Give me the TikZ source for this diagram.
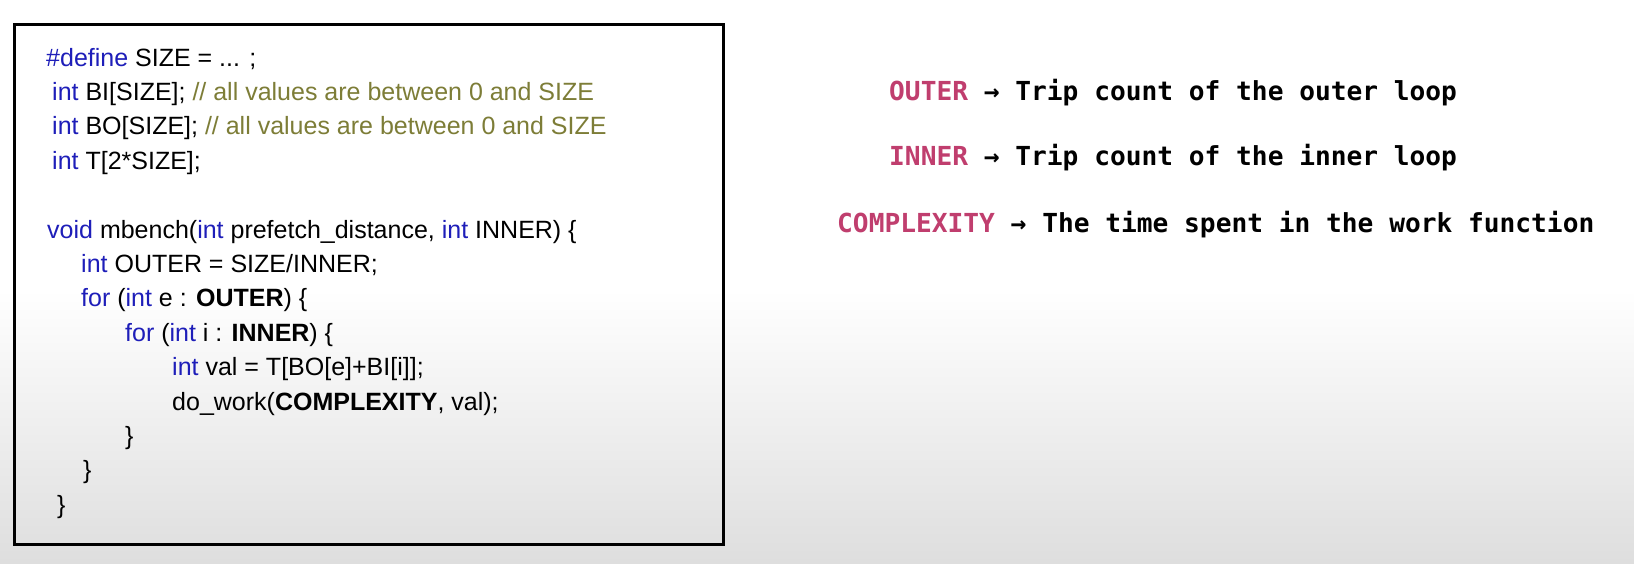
\documentclass[tikz,border=0pt]{standalone}
\usepackage{fontspec}
\setmainfont{Liberation Sans}
\newfontfamily\monofont{DejaVu Sans Mono}
\definecolor{kw}{RGB}{30,30,185}
\definecolor{cm}{RGB}{125,125,55}
\definecolor{mag}{RGB}{192,62,110}
\definecolor{bgbot}{RGB}{222,222,222}
\newcommand{\kw}[1]{\textcolor{kw}{#1}}
\newcommand{\cmt}[1]{\textcolor{cm}{#1}}
\newcommand{\mg}[1]{\textcolor{mag}{#1}}
\tikzset{
  codeline/.style={anchor=base west, inner sep=0pt, font=\fontsize{25}{30}\selectfont, text=black},
  noteline/.style={anchor=base west, inner sep=0pt, font=\monofont\bfseries\fontsize{26.2}{30}\selectfont, text=black},
  codebox/.style={draw=black, line width=3pt}
}
\begin{document}
\begin{tikzpicture}[x=1pt,y=-1pt]
\useasboundingbox (0,0) rectangle (1634,563);
% background
\fill[white] (0,0) rectangle (1634,290);
\shade[top color=white, bottom color=bgbot] (0,289) rectangle (1634,563);
% code box
\draw[codebox] (14,24) rectangle (723,544);
% code lines
\node[codeline] (l1) at (46,66) {\kw{\#define} SIZE = ... ;};
\node[codeline] (l2) at (52,100.4) {\kw{int} BI[SIZE]; \cmt{// all values are between 0 and SIZE}};
\node[codeline] (l3) at (52,134.8) {\kw{int} BO[SIZE]; \cmt{// all values are between 0 and SIZE}};
\node[codeline] (l4) at (52,169.2) {\kw{int} T[2*SIZE];};
\node[codeline] (l5) at (47,238) {\kw{void} mbench(\kw{int} prefetch\_distance, \kw{int} INNER) \{};
\node[codeline] (l6) at (81,272.4) {\kw{int} OUTER = SIZE/INNER;};
\node[codeline] (l7) at (81,306.8) {\kw{for} (\kw{int} e : \textbf{OUTER}) \{};
\node[codeline] (l8) at (125,341.2) {\kw{for} (\kw{int} i : \textbf{INNER}) \{};
\node[codeline] (l9) at (172,375.6) {\kw{int} val = T[BO[e]+BI[i]];};
\node[codeline] (l10) at (172,410) {do\_work(\textbf{COMPLEXITY}, val);};
\node[codeline] (l11) at (125,444.4) {\}};
\node[codeline] (l12) at (83,478.8) {\}};
\node[codeline] (l13) at (57,513.2) {\}};
% notes
\node[noteline] (n1) at (889,100) {\mg{OUTER} → Trip count of the outer loop};
\node[noteline] (n2) at (889,165.5) {\mg{INNER} → Trip count of the inner loop};
\node[noteline] (n3) at (837,232.5) {\mg{COMPLEXITY} → The time spent in the work function};
\end{tikzpicture}
\end{document}
